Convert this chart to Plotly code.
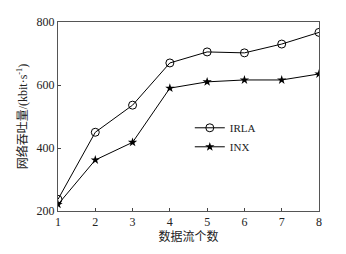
import plotly.graph_objects as go

streams = [1, 2, 3, 4, 5, 6, 7, 8]
irla = [237, 450, 536, 670, 705, 702, 730, 767]
inx = [221, 362, 418, 590, 610, 616, 616, 635]
y_ticks = [200, 400, 600, 800]

font_family = "Liberation Serif, Noto Sans CJK SC, serif"

fig = go.Figure()
fig.add_trace(go.Scatter(
    x=streams, y=irla, name="IRLA", mode="lines+markers",
    line=dict(color="black", width=1),
    marker=dict(symbol="circle-open", size=8, color="black", line=dict(width=1, color="black")),
))
fig.add_trace(go.Scatter(
    x=streams, y=inx, name="INX", mode="lines+markers",
    line=dict(color="black", width=1),
    marker=dict(symbol="star", size=7, color="black"),
))

fig.update_layout(
    width=346, height=254,
    margin=dict(l=58, r=27, t=22, b=43),
    paper_bgcolor="white", plot_bgcolor="white",
    font=dict(family=font_family, size=12, color="#222"),
    showlegend=True,
    legend=dict(x=0.505, y=0.39, xanchor="left", yanchor="middle",
                bgcolor="rgba(0,0,0,0)", font=dict(size=11),
                tracegroupgap=0, itemwidth=30),
    xaxis=dict(
        range=[1, 8], tickvals=streams, ticks="inside", ticklen=3,
        showline=True, linecolor="#555", linewidth=1, mirror=True,
        showgrid=False, zeroline=False, automargin=False,
        title=dict(text="数据流个数", font=dict(size=12), standoff=4),
        tickfont=dict(size=12),
    ),
    yaxis=dict(
        range=[200, 800], tickvals=y_ticks, ticks="inside", ticklen=3,
        showline=True, linecolor="#555", linewidth=1, mirror=True,
        showgrid=False, zeroline=False, automargin=False,
        title=dict(text="网络吞吐量/(kbit·s<sup>-1</sup>)", font=dict(size=12), standoff=6),
        tickfont=dict(size=12),
    ),
)

fig.write_html("out.html", config={"displayModeBar": False},
               post_script="document.body.style.margin='0';")
